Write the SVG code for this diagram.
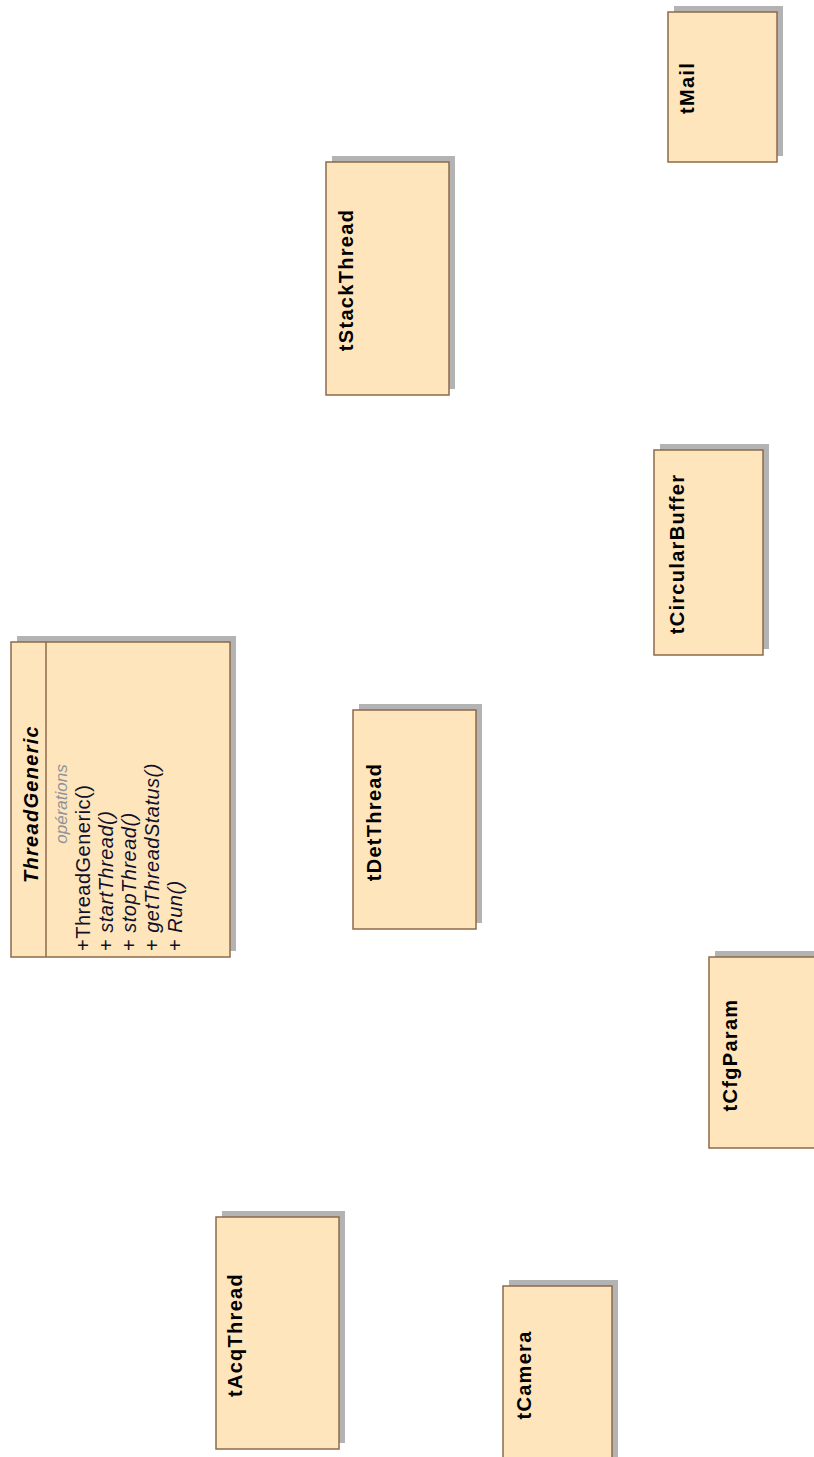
<svg xmlns="http://www.w3.org/2000/svg" width="814" height="1457" viewBox="0 0 814 1457">
<style>
.sh{fill:#b3b3b3;stroke:none}
.bx{fill:#ffe5bb;stroke:#8c6a4b;stroke-width:1.5}
.t{font-family:"Liberation Sans",Arial,sans-serif;font-size:20px;font-weight:bold;letter-spacing:1.3px;fill:#000;text-anchor:middle}
.ti{font-style:italic}
.op{font-family:"Liberation Sans",Arial,sans-serif;font-size:17px;font-style:italic;fill:#8e939b;text-anchor:middle}
.m{font-family:"Liberation Sans",Arial,sans-serif;font-size:20px;letter-spacing:0.5px;fill:#10102a}
.it{font-style:italic}
</style>
<rect width="814" height="1457" fill="#fff"/>
<g id="connectors"></g>
<g id="tMail">
<rect class="sh" x="674" y="6" width="109" height="150"/>
<rect class="bx" x="668" y="12" width="109" height="150"/>
<text class="t" transform="translate(694,88) rotate(-90)">tMail</text>
</g>
<g id="tStackThread">
<rect class="sh" x="332" y="156" width="123" height="233"/>
<rect class="bx" x="326" y="162" width="123" height="233"/>
<text class="t" transform="translate(353,280) rotate(-90)">tStackThread</text>
</g>
<g id="tCircularBuffer">
<rect class="sh" x="660" y="444" width="109" height="205"/>
<rect class="bx" x="654" y="450" width="109" height="205"/>
<text class="t" transform="translate(684,554) rotate(-90)">tCircularBuffer</text>
</g>
<g id="ThreadGeneric">
<rect class="sh" x="17" y="636" width="219" height="315"/>
<rect class="bx" x="11" y="642" width="219" height="315"/>
<line x1="46" y1="642" x2="46" y2="957" stroke="#8c6a4b" stroke-width="1.5"/>
<text class="t ti" transform="translate(38,804) rotate(-90)">ThreadGeneric</text>
<text class="op" transform="translate(67,804) rotate(-90)">opérations</text>
<g transform="translate(0,951) rotate(-90)">
<text class="m" x="0" y="90">+ThreadGeneric()</text>
<text class="m" x="0" y="113">+ <tspan class="it">startThread()</tspan></text>
<text class="m" x="0" y="136">+ <tspan class="it">stopThread()</tspan></text>
<text class="m" x="0" y="159">+ <tspan class="it">getThreadStatus()</tspan></text>
<text class="m" x="0" y="182">+ <tspan class="it">Run()</tspan></text>
</g>
</g>
<g id="tDetThread">
<rect class="sh" x="359" y="704" width="123" height="219"/>
<rect class="bx" x="353" y="710" width="123" height="219"/>
<text class="t" transform="translate(381,822) rotate(-90)">tDetThread</text>
</g>
<g id="tCfgParam">
<rect class="sh" x="715" y="951" width="109" height="191"/>
<rect class="bx" x="709" y="957" width="109" height="191"/>
<text class="t" transform="translate(737,1055) rotate(-90)">tCfgParam</text>
</g>
<g id="tAcqThread">
<rect class="sh" x="222" y="1211" width="123" height="232"/>
<rect class="bx" x="216" y="1217" width="123" height="232"/>
<text class="t" transform="translate(242,1335) rotate(-90)">tAcqThread</text>
</g>
<g id="tCamera">
<rect class="sh" x="509" y="1280" width="109" height="190"/>
<rect class="bx" x="503" y="1286" width="109" height="190"/>
<text class="t" transform="translate(531,1375) rotate(-90)">tCamera</text>
</g>
</svg>
